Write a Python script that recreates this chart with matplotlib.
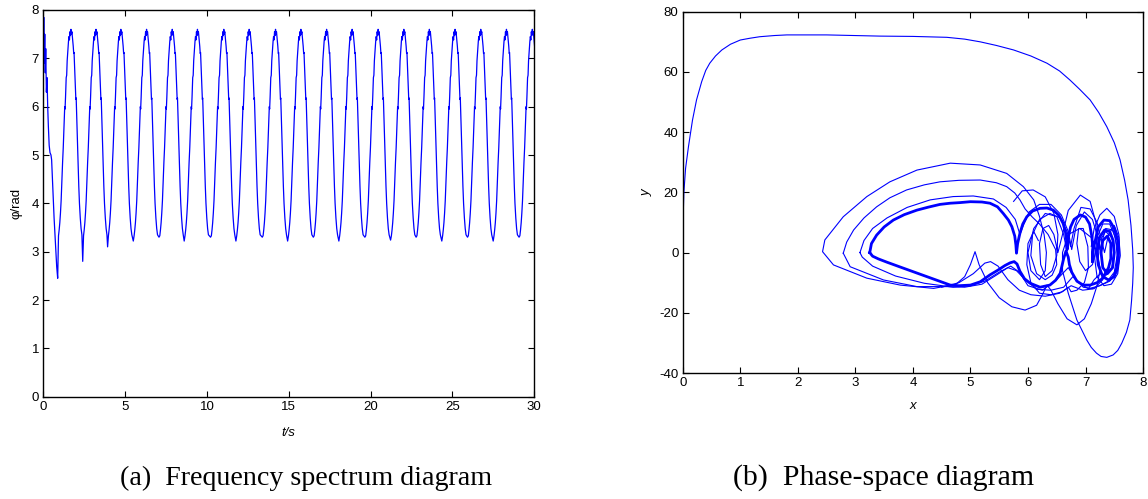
import matplotlib
matplotlib.use("Agg")
import matplotlib.pyplot as plt

# ---------------- (a) time series data ----------------
start_t = [0.00, 0.005, 0.03, 0.06, 0.09, 0.12, 0.15, 0.19, 0.23, 0.27, 0.31, 0.36,
           0.41, 0.47, 0.51, 0.56, 0.61, 0.66, 0.71, 0.77, 0.82]
start_phi = [0.0, 7.0, 7.85, 6.9, 7.5, 6.7, 7.2, 6.3, 6.6, 6.0, 5.6, 5.2,
             5.05, 5.0, 4.9, 4.5, 4.07, 3.7, 3.38, 3.0, 2.69]
trough_t = [0.88, 2.41, 3.93, 5.50, 7.07, 8.61, 10.22, 11.77, 13.38, 14.93,
            16.50, 18.06, 19.65, 21.22, 22.78, 24.35, 25.92, 27.49, 29.07]
trough_phi = [2.45, 2.80, 3.10, 3.22, 3.30, 3.22, 3.30, 3.22, 3.30, 3.22,
              3.30, 3.22, 3.30, 3.24, 3.30, 3.22, 3.30, 3.22, 3.30]
# profile of one cycle (time after trough, phi) read from a representative cycle
cycle_dt = [0.05, 0.09, 0.13, 0.17, 0.21, 0.26, 0.30, 0.34, 0.38, 0.41,
            0.43, 0.45, 0.48, 0.52, 0.55, 0.58, 0.62, 0.66, 0.69, 0.72,
            0.75, 0.78, 0.81, 0.84, 0.87, 0.91, 0.95, 0.98, 1.00, 1.04,
            1.08, 1.11, 1.13, 1.17, 1.21, 1.25, 1.29, 1.33, 1.38, 1.43, 1.48]
cycle_phi = [3.33, 3.45, 3.6, 3.8, 4.05, 4.5, 4.85, 5.15, 5.55, 5.9,
             6.0, 5.95, 6.2, 6.6, 6.65, 6.95, 7.15, 7.35, 7.45, 7.38,
             7.55, 7.47, 7.6, 7.5, 7.55, 7.4, 7.25, 7.1, 7.12, 6.75,
             6.35, 6.15, 6.18, 5.7, 5.25, 4.8, 4.35, 4.0, 3.7, 3.48, 3.35]

# ---------------- (b) phase-space traces ----------------
init_x = [0.0, 0.005, 0.02, 0.05, 0.1, 0.17, 0.24, 0.33, 0.4, 0.47, 0.57, 0.68, 0.83, 1.0,
          1.17, 1.34, 1.6, 1.81, 2.5, 3.43, 4.0, 4.59, 4.9, 5.17, 5.45, 5.75, 6.05, 6.33,
          6.55, 6.73, 6.9, 7.08, 7.23, 7.37, 7.5, 7.6, 7.68, 7.74, 7.79, 7.82, 7.83, 7.82,
          7.8, 7.77, 7.71, 7.63, 7.56, 7.48, 7.37, 7.27, 7.19, 7.1, 7.02, 6.85, 6.7, 6.6,
          6.6, 6.7, 6.9, 7.1, 7.2, 7.25, 7.2, 7.1, 6.98, 6.85, 6.68, 6.52, 6.4, 6.33,
          6.25, 6.15, 5.95, 5.72, 5.5, 5.3, 5.15, 5.08, 5.0, 4.9, 4.75, 4.36, 3.78, 3.2,
          2.62, 2.43, 2.47, 2.79, 3.2, 3.6, 4.07, 4.65, 5.17, 5.63, 5.92, 6.1, 6.2, 6.28,
          6.32, 6.3, 6.2, 6.05, 6.0, 6.1, 6.3, 6.5, 6.62, 6.68]
init_y = [0.0, 10.0, 20.0, 28.0, 35.2, 44.0, 50.7, 56.8, 60.5, 62.9, 65.3, 67.3, 69.2, 70.6,
          71.2, 71.7, 72.1, 72.3, 72.3, 71.9, 71.8, 71.5, 70.9, 70.0, 68.8, 67.3, 65.3, 62.9,
          60.3, 57.3, 54.2, 50.7, 46.5, 41.8, 36.5, 30.8, 24.0, 17.5, 9.0, 0.9, -5.0, -10.2,
          -16.0, -22.4, -26.5, -30.1, -32.5, -34.0, -34.8, -34.5, -33.4, -31.5, -29.0, -22.4, -13.5, -6.0,
          0.0, 6.0, 8.0, 5.0, 0.0, -6.0, -11.0, -17.0, -22.0, -24.0, -22.0, -17.0, -12.5, -10.8,
          -14.0, -17.5, -19.1, -18.0, -15.0, -10.0, -4.0, 0.3, -4.0, -8.0, -10.5, -11.9, -10.8, -8.5,
          -4.1, 0.3, 4.2, 11.9, 18.6, 23.5, 27.4, 29.7, 29.1, 26.3, 21.9, 17.5, 12.0, 6.0,
          0.0, -6.0, -9.0, -6.0, 0.0, 8.0, 13.0, 12.0, 6.0, 0.0]
loop2_x = [2.79, 2.85, 2.97, 3.15, 3.37, 3.6, 3.89, 4.2, 4.47, 4.8, 5.17, 5.45, 5.63, 5.77,
           5.86, 5.95, 6.07, 6.2, 6.35, 6.48, 6.5, 6.42, 6.3, 6.15, 6.05, 6.08, 6.2, 6.38,
           6.56, 6.68, 6.74, 6.8, 6.92, 7.08, 7.2, 7.28, 7.33, 7.4, 7.5, 7.58, 7.6, 7.55,
           7.42, 7.25, 7.05, 6.88, 6.78, 6.62, 6.4, 6.15, 5.95, 5.8, 5.65, 5.45, 5.2, 4.9,
           4.6, 4.07, 3.49, 2.91, 2.79]
loop2_y = [-0.2, 3.5, 7.5, 11.5, 15.2, 18.2, 20.8, 22.5, 23.5, 24.0, 24.1, 23.2, 21.9, 19.8,
           17.5, 14.5, 11.9, 9.5, 6.0, 1.0, -4.0, -7.5, -9.0, -7.0, -1.0, 6.0, 11.0, 13.0,
           11.5, 7.0, 2.0, 8.0, 15.0, 14.5, 10.0, 4.0, 0.0, 6.0, 9.0, 5.0, -1.0, -6.5,
           -9.5, -11.0, -12.0, -10.0, -8.0, -11.5, -12.5, -12.2, -9.0, -6.0, -5.0, -7.5, -10.5, -11.5,
           -11.3, -11.3, -9.1, -4.7, -0.2]
loop3_x = [3.08, 3.15, 3.3, 3.55, 3.9, 4.3, 4.7, 5.05, 5.4, 5.62, 5.78, 5.86, 5.92, 6.02,
           6.2, 6.4, 6.58, 6.7, 6.76, 6.84, 6.98, 7.12, 7.2, 7.25, 7.35, 7.48, 7.56, 7.54,
           7.44, 7.3, 7.12, 6.96, 6.82, 6.7, 6.5, 6.25, 6.0, 5.85, 5.7, 5.5, 5.25, 5.0,
           4.7, 4.2, 3.7, 3.3, 3.12, 3.08]
loop3_y = [0.0, 4.0, 8.0, 11.5, 15.0, 17.5, 18.6, 18.8, 17.8, 15.0, 11.0, 6.0, 9.0, 13.5,
           16.0, 16.0, 12.5, 7.0, 1.0, 9.0, 13.5, 11.0, 6.0, 1.0, 8.0, 7.5, 1.0, -5.5,
           -9.0, -10.5, -12.0, -11.5, -8.5, -5.0, -9.0, -12.5, -11.0, -6.5, -4.5, -6.5, -9.5, -11.0,
           -11.5, -10.2, -7.8, -4.5, -1.5, 0.0]
main_x = [3.25, 3.28, 3.37, 3.5, 3.66, 3.85, 4.07, 4.27, 4.47, 4.65,
          4.82, 5.0, 5.2, 5.34, 5.47, 5.57, 5.66, 5.72, 5.77, 5.79,
          5.8, 5.82, 5.86, 5.91, 5.98, 6.08, 6.21, 6.33, 6.44, 6.54,
          6.61, 6.65, 6.67, 6.68, 6.7, 6.74, 6.8, 6.91, 7.0, 7.07,
          7.11, 7.13, 7.12, 7.13, 7.17, 7.22, 7.32, 7.42, 7.5, 7.56, 7.57, 7.55,
          7.5, 7.4, 7.3, 7.22, 7.2, 7.24, 7.33, 7.42, 7.48, 7.5,
          7.47, 7.38, 7.3, 7.27, 7.3, 7.38, 7.44, 7.44, 7.4, 7.3,
          7.2, 7.08, 6.96, 6.85, 6.76, 6.72, 6.7, 6.66, 6.62, 6.56, 6.48,
          6.38, 6.21, 6.04, 5.94, 5.86, 5.81, 5.76, 5.69, 5.6, 5.48, 5.34,
          5.17, 5.0, 4.8, 4.65, 4.36, 4.07, 3.78, 3.55, 3.4, 3.3, 3.25]
main_y = [0.0, 3.0, 5.8, 8.5, 10.8, 12.6, 14.1, 15.1, 16.0, 16.4,
          16.6, 16.9, 16.8, 16.4, 15.2, 13.0, 10.8, 8.6, 5.5, 2.5,
          -0.2, 3.0, 6.4, 9.5, 11.9, 13.8, 14.7, 14.8, 14.1, 12.3,
          9.7, 7.0, 4.2, 1.0, 5.0, 8.5, 11.0, 12.5, 11.8, 9.5,
          5.3, 1.0, -3.0, 1.0, 4.0, 8.5, 10.8, 10.6, 8.0, 4.0, 0.0, -4.5,
          -8.0, -9.1, -8.0, -4.0, 0.0, 5.0, 7.5, 7.0, 4.0, 0.0,
          -5.0, -7.0, -5.0, 0.0, 4.0, 5.5, 3.0, -2.0, -5.0, -8.5,
          -10.0, -10.8, -10.8, -9.5, -6.5, -4.0, -1.5, 0.5, -2.0, -6.9, -9.2,
          -10.8, -11.5, -10.2, -8.7, -6.2, -3.8, -3.0, -3.4, -4.3, -5.8, -7.4,
          -9.7, -10.8, -11.0, -10.8, -8.8, -6.8, -4.8, -3.2, -2.1, -1.2, 0.0]
spiral_x = [7.1, 7.15, 7.25, 7.37, 7.5, 7.58, 7.6, 7.56, 7.45, 7.32, 7.2, 7.16, 7.2, 7.3, 7.42,
            7.52, 7.55, 7.5, 7.4, 7.28, 7.22, 7.25, 7.35, 7.46, 7.5, 7.46, 7.36, 7.26, 7.15, 7.05]
spiral_y = [2.0, 8.0, 12.5, 14.7, 12.0, 6.0, -1.0, -7.0, -10.5, -11.0, -8.0, -2.0, 5.0, 9.5, 9.5,
            5.0, -1.0, -6.5, -9.0, -7.5, -2.0, 4.0, 7.0, 5.0, 0.0, -5.0, -7.5, -7.0, -9.0, -12.0]
ring_x = [5.75, 5.9, 6.09, 6.3, 6.45, 6.52, 6.5, 6.42, 6.3, 6.22, 6.2, 6.26, 6.36, 6.45, 6.52,
          6.6, 6.7, 6.91, 7.08, 7.18, 7.2, 7.12, 7.0, 6.9, 6.85, 6.88, 6.96, 7.04, 7.05, 6.98,
          6.85, 6.75, 6.7, 6.6, 6.4, 6.2, 6.05, 5.98, 6.0, 6.1, 6.18]
ring_y = [17.0, 20.5, 20.8, 18.5, 13.0, 6.0, -1.0, -6.0, -8.0, -4.0, 3.0, 8.0, 9.0, 6.0, 0.0,
          6.0, 14.0, 19.1, 17.0, 10.0, 2.0, -4.0, -6.0, -3.0, 3.0, 8.0, 8.0, 2.0, -5.0, -10.0,
          -12.5, -13.0, -11.5, -13.0, -14.0, -13.5, -10.0, -4.0, 3.0, 7.0, 4.0]
low_x = [4.5, 4.8, 5.05, 5.25, 5.35, 5.48, 5.65, 5.85, 6.05, 6.3, 6.55, 6.75, 6.95, 7.15, 7.3]
low_y = [-11.5, -10.0, -7.0, -3.5, -3.0, -4.5, -9.0, -12.5, -14.0, -14.5, -13.5, -11.0, -12.5, -12.0, -9.0]

# ---------------- build the time-series line ----------------
t_series = list(start_t)
phi_series = list(start_phi)
for tk, vk in zip(trough_t, trough_phi):
    t_series.append(tk)
    phi_series.append(vk)
    for d, p in zip(cycle_dt, cycle_phi):
        t_series.append(tk + d)
        phi_series.append(p)

plt.rcParams['font.family'] = ['Liberation Sans', 'DejaVu Sans']
plt.rcParams['axes.unicode_minus'] = False
BLUE = '#0000ff'
TICK_FS = 9.5

fig = plt.figure(figsize=(11.48, 4.99), dpi=100)
ax1 = fig.add_axes([0.0377, 0.205, 0.4277, 0.775])
ax2 = fig.add_axes([0.5947, 0.2525, 0.401, 0.724])

ax1.plot(t_series, phi_series, color=BLUE, lw=0.9)
ax1.set_xlim(0, 30)
ax1.set_ylim(0, 8)
ax1.set_xticks(range(0, 31, 5))
ax1.set_yticks(range(0, 9))
ax1.set_xlabel('t/s', style='italic', fontsize=TICK_FS, labelpad=10)
ax1.set_ylabel('φ/rad', fontsize=TICK_FS, labelpad=6.5)

thin = dict(color=BLUE, lw=0.8)
ax2.plot(init_x, init_y, **thin)
ax2.plot(loop2_x, loop2_y, **thin)
ax2.plot(loop3_x, loop3_y, **thin)
ax2.plot(spiral_x, spiral_y, **thin)
ax2.plot(ring_x, ring_y, **thin)
ax2.plot(low_x, low_y, **thin)
ax2.plot(main_x, main_y, color=BLUE, lw=2.0)
ax2.set_xlim(0, 8)
ax2.set_ylim(-40, 80)
ax2.set_xticks(range(0, 9))
ax2.set_yticks(range(-40, 81, 20))
ax2.set_xlabel('x', style='italic', fontsize=TICK_FS, labelpad=7.5)
ax2.set_ylabel('y', style='italic', fontsize=TICK_FS, labelpad=5)

for ax in (ax1, ax2):
    ax.tick_params(direction='in', top=True, right=True, length=4, width=0.8,
                   labelsize=TICK_FS, pad=3, colors='black')
    for s in ax.spines.values():
        s.set_linewidth(1.0)
        s.set_color('black')

fig.text(306 / 1148, 1 - 478 / 499, '(a)  Frequency spectrum diagram',
         family='Liberation Serif', fontsize=20.2, ha='center', va='center')
fig.text(884 / 1148, 1 - 478 / 499, '(b)  Phase-space diagram',
         family='Liberation Serif', fontsize=21.5, ha='center', va='center')

fig.savefig('out.png', dpi=100)
